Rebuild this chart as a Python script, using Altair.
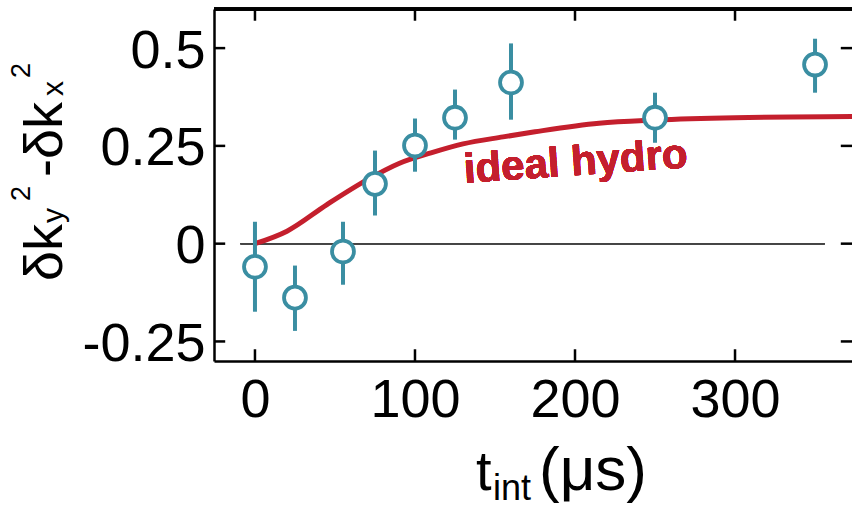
import altair as alt
import pandas as pd

# ---- data ----
t_data = [0, 25, 55, 75, 100, 125, 160, 250, 350]
dk_data = [-0.059, -0.138, -0.020, 0.153, 0.251, 0.322, 0.412, 0.322, 0.458]
dk_hi = [0.056, -0.056, 0.056, 0.238, 0.320, 0.394, 0.512, 0.386, 0.524]
dk_lo = [-0.174, -0.223, -0.105, 0.072, 0.184, 0.266, 0.317, 0.258, 0.386]

t_hydro = [0, 20, 45, 70, 90, 110, 130, 155, 175, 215, 250, 300, 375]
dk_hydro = [0, 0.032, 0.100, 0.163, 0.205, 0.232, 0.255, 0.273, 0.286, 0.308, 0.316, 0.322, 0.325]

x_ticks = [0, 100, 200, 300]
y_ticks = [-0.25, 0, 0.25, 0.5]

X_DOM = [-25.6, 373.1]
Y_DOM = [-0.3, 0.6]
TEAL = "#3a8ea2"
RED = "#c41f2d"
FONT = "Liberation Sans"

pts = pd.DataFrame({"t": t_data, "dk": dk_data, "lo": dk_lo, "hi": dk_hi})
hyd = pd.DataFrame({"t": t_hydro, "dk": dk_hydro})
xt = pd.DataFrame({"v": x_ticks})
yt = pd.DataFrame({"v": y_ticks})

xs = alt.Scale(domain=X_DOM, nice=False, zero=False)
ys = alt.Scale(domain=Y_DOM, nice=False, zero=False)

xaxis = alt.Axis(values=x_ticks, labelExpr="'' + datum.value", title=None,
                 ticks=False, grid=False, domain=True, domainColor="black",
                 domainWidth=2.5, labelFont=FONT, labelFontSize=54,
                 labelColor="black", labelPadding=12)
yaxis = alt.Axis(values=y_ticks, labelExpr="'' + datum.value", title=None,
                 ticks=False, grid=False, domain=True, domainColor="black",
                 domainWidth=2.5, labelFont=FONT, labelFontSize=54,
                 labelColor="black", labelPadding=9, labelOffset=3)

base_axes = alt.Chart(hyd).mark_line(opacity=0).encode(
    x=alt.X("t:Q", scale=xs, axis=xaxis),
    y=alt.Y("dk:Q", scale=ys, axis=yaxis),
)

zero_line = alt.Chart(hyd).mark_rule(color="#444444", strokeWidth=1.2).encode(
    x=alt.datum(-9), x2=alt.datum(356), y=alt.datum(0)
)

hydro = alt.Chart(hyd).mark_line(color=RED, strokeWidth=5, interpolate="monotone", clip=True).encode(
    x=alt.X("t:Q", scale=xs), y=alt.Y("dk:Q", scale=ys)
)

errbars = alt.Chart(pts).mark_rule(color=TEAL, strokeWidth=4).encode(
    x=alt.X("t:Q", scale=xs), y=alt.Y("lo:Q", scale=ys), y2="hi:Q"
)

circles = alt.Chart(pts).mark_circle(fill="white", stroke=TEAL, strokeWidth=3.8,
                                     size=480, opacity=1).encode(
    x=alt.X("t:Q", scale=xs), y=alt.Y("dk:Q", scale=ys)
)

label = alt.Chart(hyd).mark_text(text="ideal hydro", font=FONT, fontSize=42,
                                 fontWeight="bold", color=RED, angle=356,
                                 align="center", baseline="alphabetic").encode(
    x=alt.datum(201), y=alt.datum(0.175)
)

# frame: top edge and inward ticks
top_edge = alt.Chart(hyd).mark_rule(color="black", strokeWidth=2.5).encode(
    x=alt.datum(X_DOM[0]), x2=alt.datum(X_DOM[1]), y=alt.datum(Y_DOM[1])
)
tick_w = 2.5
left_ticks = alt.Chart(yt).mark_rule(color="black", strokeWidth=tick_w).encode(
    y=alt.Y("v:Q", scale=ys), x=alt.datum(X_DOM[0]), x2=alt.datum(X_DOM[0] + 7)
)
right_ticks = alt.Chart(yt).mark_rule(color="black", strokeWidth=tick_w).encode(
    y=alt.Y("v:Q", scale=ys), x=alt.datum(X_DOM[1] - 7), x2=alt.datum(X_DOM[1])
)
bottom_ticks = alt.Chart(xt).mark_rule(color="black", strokeWidth=tick_w).encode(
    x=alt.X("v:Q", scale=xs), y=alt.datum(Y_DOM[0]), y2=alt.datum(Y_DOM[0] + 0.03)
)
top_ticks = alt.Chart(xt).mark_rule(color="black", strokeWidth=tick_w).encode(
    x=alt.X("v:Q", scale=xs), y=alt.datum(Y_DOM[1] - 0.03), y2=alt.datum(Y_DOM[1])
)

# axis titles built from pieces (sub/superscripts)
def txt(s, px, py, size, angle=0):
    kw = dict(text=s, font=FONT, fontSize=size, color="black",
              align="left", baseline="alphabetic")
    if angle:
        kw["angle"] = angle
    return alt.Chart(hyd.head(1)).mark_text(**kw).encode(
        x=alt.value(px), y=alt.value(py)
    )

OX, OY = 214, 9
ytitle = [
    txt("δk", 62 - OX, 281 - OY, 54, 270),
    txt("y", 63 - OX, 223 - OY, 30, 270),
    txt("2", 30 - OX, 201 - OY, 27, 270),
    txt("-δk", 62 - OX, 177 - OY, 54, 270),
    txt("x", 63 - OX, 96 - OY, 30, 270),
    txt("2", 30 - OX, 78 - OY, 27, 270),
]
xtitle = [
    txt("t", 476 - OX, 490 - OY, 56),
    txt("int", 493 - OX, 500 - OY, 36),
    txt("(μs)", 539 - OX, 490 - OY, 62),
]

chart = alt.layer(
    base_axes, zero_line, hydro, errbars, circles, label,
    top_edge, left_ticks, right_ticks, bottom_ticks, top_ticks,
    *ytitle, *xtitle
).properties(
    width=638, height=352,
    padding={"left": 214, "top": 9, "right": 0, "bottom": 147},
    autosize=alt.AutoSizeParams(type="none"),
    background="white",
).configure_view(stroke=None)

chart.save("out.html", embed_options={"renderer": "svg", "actions": False})
